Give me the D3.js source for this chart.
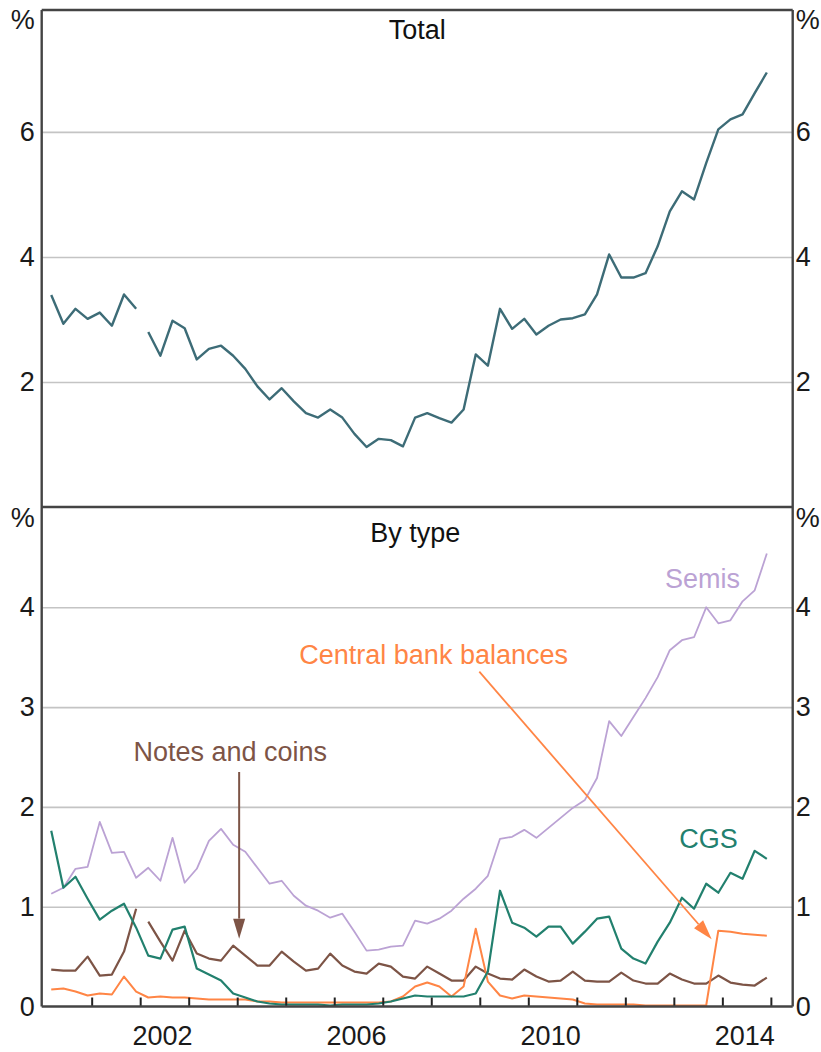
<!DOCTYPE html>
<html><head><meta charset="utf-8">
<script src="https://cdn.jsdelivr.net/npm/d3@7"></script>
<style>
html,body{margin:0;padding:0;background:#fff;}
svg{display:block;font-family:"Liberation Sans", Arial, sans-serif;}
</style></head><body>
<svg id="chart" width="821" height="1052"></svg>
<script>
// ---------------- DATA ----------------
const quarters = [
 "Mar-2000","Jun-2000","Sep-2000","Dec-2000","Mar-2001","Jun-2001","Sep-2001","Dec-2001",
 "Mar-2002","Jun-2002","Sep-2002","Dec-2002","Mar-2003","Jun-2003","Sep-2003","Dec-2003",
 "Mar-2004","Jun-2004","Sep-2004","Dec-2004","Mar-2005","Jun-2005","Sep-2005","Dec-2005",
 "Mar-2006","Jun-2006","Sep-2006","Dec-2006","Mar-2007","Jun-2007","Sep-2007","Dec-2007",
 "Mar-2008","Jun-2008","Sep-2008","Dec-2008","Mar-2009","Jun-2009","Sep-2009","Dec-2009",
 "Mar-2010","Jun-2010","Sep-2010","Dec-2010","Mar-2011","Jun-2011","Sep-2011","Dec-2011",
 "Mar-2012","Jun-2012","Sep-2012","Dec-2012","Mar-2013","Jun-2013","Sep-2013","Dec-2013",
 "Mar-2014","Jun-2014","Sep-2014","Dec-2014"];
// series break (line not joined) before this quarter
const breakBefore = "Mar-2002";

const totalValues = [3.39,2.93,3.17,3.01,3.11,2.90,3.40,3.17,
 2.80,2.42,2.98,2.86,2.36,2.53,2.58,2.42,2.21,1.93,1.72,1.90,1.69,1.50,1.43,1.56,1.43,1.17,0.96,1.09,
 1.07,0.97,1.43,1.50,1.42,1.35,1.56,2.44,2.26,3.17,2.85,3.01,2.76,2.90,3.00,3.02,3.08,3.40,4.04,3.67,
 3.67,3.74,4.17,4.73,5.05,4.92,5.50,6.04,6.20,6.28,6.62,6.95];
const semisValues = [1.13,1.19,1.38,1.40,1.85,1.54,1.55,1.29,1.39,1.26,
 1.69,1.24,1.38,1.66,1.78,1.62,1.55,1.39,1.23,1.26,
 1.11,1.01,0.96,0.89,0.93,0.75,0.56,0.57,0.60,0.61,
 0.86,0.83,0.88,0.96,1.08,1.18,1.31,1.68,1.70,1.77,
 1.69,1.79,1.89,1.99,2.07,2.29,2.86,2.71,2.90,3.09,
 3.30,3.57,3.67,3.70,4.00,3.84,3.87,4.06,4.17,4.54];
const cgsValues = [1.76,1.19,1.30,1.08,0.87,0.96,1.03,0.79,0.51,0.48,
 0.77,0.80,0.38,0.32,0.26,0.13,0.09,0.05,0.03,0.02,
 0.02,0.02,0.02,0.01,0.02,0.02,0.02,0.03,0.05,0.08,
 0.11,0.10,0.10,0.10,0.10,0.13,0.35,1.16,0.84,0.79,
 0.70,0.80,0.80,0.63,0.75,0.88,0.90,0.58,0.48,0.43,
 0.65,0.84,1.09,0.98,1.23,1.14,1.34,1.28,1.56,1.48];
const notesValues = [0.37,0.36,0.36,0.50,0.31,0.32,0.55,0.98,0.85,0.65,
 0.46,0.76,0.53,0.48,0.46,0.61,0.51,0.41,0.41,0.55,
 0.45,0.36,0.38,0.53,0.41,0.35,0.33,0.43,0.40,0.30,
 0.28,0.40,0.33,0.26,0.26,0.40,0.33,0.28,0.27,0.37,
 0.30,0.25,0.26,0.35,0.26,0.25,0.25,0.34,0.26,0.23,
 0.23,0.33,0.27,0.23,0.23,0.31,0.24,0.22,0.21,0.29];
const cbbValues = [0.17,0.18,0.15,0.11,0.13,0.12,0.30,0.15,0.09,0.10,
 0.09,0.09,0.08,0.07,0.07,0.07,0.07,0.05,0.05,0.04,
 0.04,0.04,0.04,0.04,0.04,0.04,0.04,0.04,0.05,0.10,
 0.20,0.24,0.20,0.10,0.20,0.78,0.25,0.11,0.08,0.11,
 0.10,0.09,0.08,0.07,0.03,0.02,0.02,0.02,0.02,0.01,
 0.01,0.01,0.01,0.01,0.01,0.76,0.75,0.73,0.72,0.71];

const topGrid = [2,4,6];
const topLabels = [2,4,6];
const bottomGrid = [1,2,3,4];
const bottomLabels = [0,1,2,3,4];
const yearTicks = [2001,2002,2003,2004,2005,2006,2007,2008,2009,2010,2011,2012,2013,2014,2015];
const yearLabels = [2002,2006,2010,2014];

// ---------------- LAYOUT ----------------
const X0 = 41.7, X1 = 792.7;
const TOP = {top:10, bottom:507, max:7.95};
const BOT = {top:507.5, bottom:1006.5, max:5};
const FS = 27;
const FF = "Liberation Sans, Arial, sans-serif";
const C = {total:"#3d6c77", cgs:"#22806e", semis:"#bba2d4", notes:"#7d5446", cbb:"#ff8545",
  grid:"#c4c4c4", axis:"#444", text:"#1a1a1a"};

const svg = d3.select("#chart");
const monthIdx = {Mar:2, Jun:5, Sep:8, Dec:11};
const tOf = q => { const [m,y] = q.split("-"); return +y + monthIdx[m]/12; };

const x = d3.scaleLinear().domain([1999.97, 2015.45]).range([X0, X1]);
const yT = d3.scaleLinear().domain([0, TOP.max]).range([TOP.bottom, TOP.top]);
const yB = d3.scaleLinear().domain([0, BOT.max]).range([BOT.bottom, BOT.top]);

function series(vals){ return quarters.map((q,i)=>({q, t:tOf(q), v:vals[i]})); }
function segments(data, withBreak){
  if(!withBreak) return [data];
  const k = quarters.indexOf(breakBefore);
  return [data.slice(0,k), data.slice(k)];
}

function panel(P, y, grid, labels){
  const g = svg.append("g");
  const gg = g.append("g").attr("transform",`translate(${X0},0)`)
    .call(d3.axisLeft(y).tickValues(grid).tickSize(-(X1-X0)).tickFormat(""));
  gg.select(".domain").remove();
  gg.selectAll("line").attr("stroke",C.grid).attr("stroke-width",1.6);
  const fmt = d3.format("d");
  const la = g.append("g").attr("transform",`translate(${X0},0)`)
    .call(d3.axisLeft(y).tickValues(labels).tickSize(0).tickPadding(7).tickFormat(fmt));
  la.select(".domain").remove();
  la.selectAll("text").attr("font-size",FS).attr("font-family",FF).attr("fill",C.text);
  const ra = g.append("g").attr("transform",`translate(${X1},0)`)
    .call(d3.axisRight(y).tickValues(labels).tickSize(0).tickPadding(3).tickFormat(fmt));
  ra.select(".domain").remove();
  ra.selectAll("text").attr("font-size",FS).attr("font-family",FF).attr("fill",C.text);
  g.append("text").attr("x",X0-7).attr("y",P.top+19).attr("text-anchor","end")
    .attr("font-size",FS).attr("fill",C.text).text("%");
  g.append("text").attr("x",X1+3).attr("y",P.top+19).attr("text-anchor","start")
    .attr("font-size",FS).attr("fill",C.text).text("%");
  return g;
}

panel(TOP, yT, topGrid, topLabels);
panel(BOT, yB, bottomGrid, bottomLabels);

// titles
svg.append("text").attr("x",(X0+X1)/2).attr("y",39).attr("text-anchor","middle")
  .attr("font-size",FS).attr("fill","#111").text("Total");
svg.append("text").attr("x",(X0+X1)/2 - 2).attr("y",542).attr("text-anchor","middle")
  .attr("font-size",FS).attr("fill","#111").text("By type");

// lines
function drawLine(vals, y, color, w, withBreak){
  const line = d3.line().x(d=>x(d.t)).y(d=>y(d.v));
  segments(series(vals), withBreak).forEach(seg=>{
    svg.append("path").datum(seg).attr("d",line).attr("fill","none")
      .attr("stroke",color).attr("stroke-width",w).attr("stroke-linejoin","round");
  });
}
drawLine(totalValues, yT, C.total, 2.4, true);
drawLine(semisValues, yB, C.semis, 1.8, false);
drawLine(notesValues, yB, C.notes, 2.2, true);
drawLine(cbbValues, yB, C.cbb, 2.0, false);
drawLine(cgsValues, yB, C.cgs, 2.2, false);

// annotations (positioned in data coordinates)
function label(txt, t, v, color){
  svg.append("text").attr("x",x(t)).attr("y",yB(v)).attr("font-size",FS)
    .attr("fill",color).text(txt);
}
label("Semis", 2012.82, 4.19, C.semis);
label("Central bank balances", 2005.28, 3.43, C.cbb);
label("Notes and coins", 2001.86, 2.46, C.notes);
label("CGS", 2013.11, 1.59, C.cgs);

function arrow(t1,v1,t2,v2,color,w,hl,hw){
  const x1=x(t1), y1=yB(v1), x2=x(t2), y2=yB(v2);
  const dx=x2-x1, dy=y2-y1, L=Math.hypot(dx,dy), ux=dx/L, uy=dy/L;
  const bx=x2-ux*hl, by=y2-uy*hl;
  svg.append("line").attr("x1",x1).attr("y1",y1).attr("x2",bx).attr("y2",by)
    .attr("stroke",color).attr("stroke-width",w);
  svg.append("path").attr("d",`M${x2},${y2}L${bx-uy*hw/2},${by+ux*hw/2}L${bx+uy*hw/2},${by-ux*hw/2}Z`)
    .attr("fill",color);
}
arrow(2004.04, 2.35, 2004.04, 0.68, C.notes, 2, 20, 12);
arrow(2008.99, 3.355, 2013.78, 0.673, C.cbb, 1.8, 20, 12);

// bottom axis ticks (year boundaries, inward)
const xt = svg.append("g").attr("transform",`translate(0,${BOT.bottom})`)
  .call(d3.axisBottom(x).tickValues(yearTicks).tickSize(-9).tickFormat(""));
xt.select(".domain").remove();
xt.selectAll("line").attr("stroke","#222").attr("stroke-width",2);
// year labels centred within each year
const xl = svg.append("g").attr("transform",`translate(0,${BOT.bottom})`)
  .call(d3.axisBottom(x).tickValues(yearLabels.map(d=>d+0.45)).tickSize(0).tickPadding(19)
    .tickFormat(d=>String(Math.floor(d))));
xl.select(".domain").remove();
xl.selectAll("text").attr("font-size",FS).attr("font-family",FF).attr("fill",C.text);

// frame
const fr = svg.append("g").attr("stroke",C.axis).attr("stroke-width",2.4).attr("fill","none");
fr.append("line").attr("x1",X0).attr("x2",X0).attr("y1",TOP.top).attr("y2",BOT.bottom);
fr.append("line").attr("x1",X1).attr("x2",X1).attr("y1",TOP.top).attr("y2",BOT.bottom);
fr.append("line").attr("x1",X0).attr("x2",X1).attr("y1",TOP.top).attr("y2",TOP.top);
fr.append("line").attr("x1",X0).attr("x2",X1).attr("y1",TOP.bottom).attr("y2",TOP.bottom);
fr.append("line").attr("x1",X0).attr("x2",X1).attr("y1",BOT.bottom).attr("y2",BOT.bottom);
</script>
</body></html>
